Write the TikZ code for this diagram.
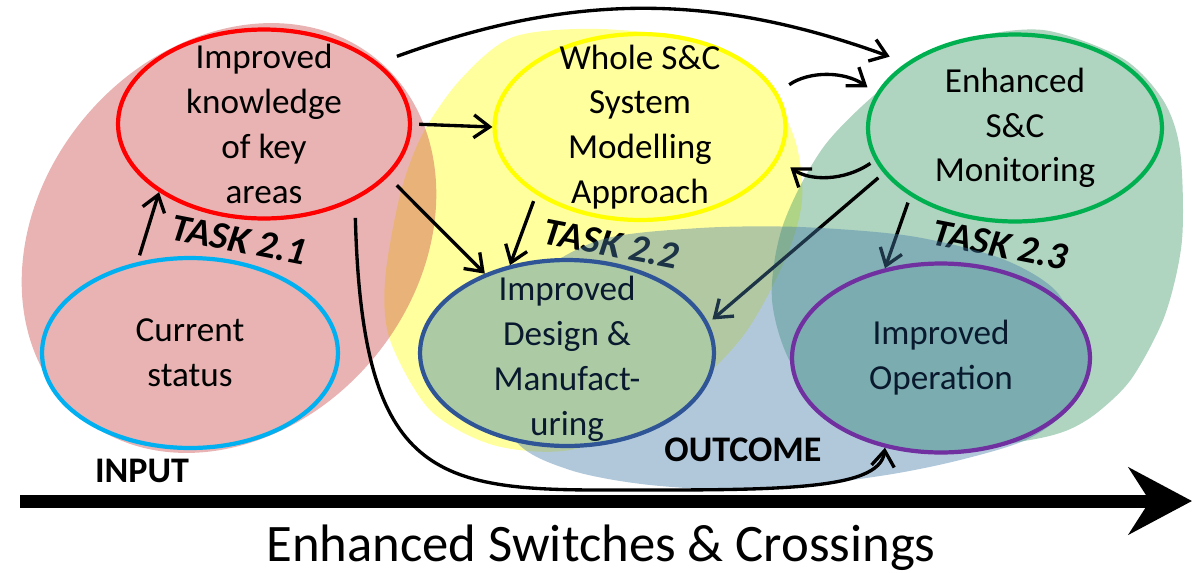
\documentclass[tikz,border=0pt]{standalone}
\usepackage{fontspec}
\setmainfont{Carlito}
\usetikzlibrary{shapes.geometric,arrows.meta,positioning}

% outline colours
\definecolor{knowred}{RGB}{255,0,0}
\definecolor{curcyan}{RGB}{0,176,240}
\definecolor{modyel}{RGB}{255,255,0}
\definecolor{mongreen}{RGB}{0,176,80}
\definecolor{desblue}{RGB}{47,85,151}
\definecolor{operpurple}{RGB}{112,48,160}
% fills
\definecolor{pinkfill}{RGB}{233,179,179}
\definecolor{yelfill}{RGB}{255,255,158}
\definecolor{greenfill}{RGB}{175,212,191}
\definecolor{desfill}{RGB}{172,203,165}
\definecolor{operfill}{RGB}{122,172,176}
\definecolor{navy}{RGB}{10,26,46}
% blob colours (used with opacity)
\definecolor{pinkbase}{RGB}{200,65,65}
\definecolor{yelbase}{RGB}{255,255,0}
\definecolor{greenbase}{RGB}{55,147,95}
\definecolor{bluebase}{RGB}{70,125,170}

\pgfdeclarelayer{back}
\pgfdeclarelayer{tint}
\pgfdeclarelayer{front}
\pgfsetlayers{back,main,tint,front}

\tikzset{
  stage/.style={ellipse, line width=2.4pt, inner sep=0pt,
    minimum width=5.86cm, minimum height=3.74cm},
  lbl/.style={align=center, inner sep=0pt, font=\fontsize{20}{25.5}\selectfont},
  tasklbl/.style={font=\bfseries\itshape\fontsize{22}{26}\selectfont,
    rotate=-11, inner sep=0pt},
  tag/.style={font=\bfseries\fontsize{20.5}{24}\selectfont, inner sep=0pt},
  arr/.style={-{Straight Barb[length=9pt,width=13pt]}, line width=1.9pt,
    shorten <=4pt}
}

\begin{document}
\begin{tikzpicture}[x=0.02cm, y=-0.02cm]
\useasboundingbox (0,0) rectangle (1197,572);

% Background blobs
\begin{pgfonlayer}{back}
  \fill[yelbase, fill opacity=.38] plot[smooth cycle] coordinates {
    (513,37) (600,29) (700,42) (765,85) (795,140) (802,200) (785,260)
    (740,340) (660,415) (570,450) (493,445) (430,410) (390,340)
    (385,280) (400,195) (422,135) (460,80)};
  \coordinate (pink-c) at (229,238);
  \fill[pinkbase, fill opacity=.4, rotate around={50:(pink-c)}]
    (pink-c) ellipse [x radius=232, y radius=188];
  \fill[greenbase, fill opacity=.4] plot[smooth cycle] coordinates {
    (1043,30) (1122,58) (1163,100) (1180,150) (1182,240) (1165,315)
    (1132,378) (1098,412) (1068,430) (1030,440) (950,450) (860,430)
    (795,370) (772,300) (783,225) (825,145) (895,78) (965,40)};
\end{pgfonlayer}

% Outcome blob
\begin{pgfonlayer}{tint}
  \fill[bluebase, fill opacity=.42] plot[smooth cycle] coordinates {
    (490,360) (530,282) (600,240) (700,228) (800,227) (910,236)
    (1000,258) (1055,290) (1080,340) (1075,400) (1030,438) (960,460)
    (880,476) (760,490) (650,485) (570,470) (515,440)};
\end{pgfonlayer}

% Stages
\node[stage, draw=knowred, fill=pinkfill, minimum width=5.84cm, minimum height=3.78cm] (know) at (264,124) {};
\node[lbl] (know-t) at (know) {Improved\\knowledge\\of key\\areas};

\node[stage, draw=curcyan, fill=pinkfill, minimum width=5.92cm, minimum height=3.8cm] (cur) at (190,353) {};
\node[lbl] (cur-t) at (cur) {Current\\status};

\node[stage, draw=modyel, fill=yelfill, minimum width=5.82cm, minimum height=3.72cm] (model) at (640,127) {};
\node[lbl] (model-t) at (model) {Whole S\&C\\System\\Modelling\\Approach};

\node[stage, draw=mongreen, fill=greenfill, minimum width=5.88cm] (mon) at (1015,128) {};
\node[lbl] (mon-t) at (mon) {Enhanced\\S\&C\\Monitoring};

\begin{pgfonlayer}{front}
  \node[stage, draw=desblue, fill=desfill, minimum width=5.88cm, minimum height=3.72cm] (des) at (567,353) {};
  \node[lbl, text=navy] (des-t) at ([yshift=-0.12cm]des.center) {Improved\\Design \&\\Manufact-\\uring};

  \node[stage, draw=operpurple, fill=operfill, minimum width=5.96cm, minimum height=3.78cm] (oper) at (941,358) {};
  \node[lbl, text=navy] (oper-t) at (oper) {Improved\\Operation};
\end{pgfonlayer}

% Links between stages
\draw[arr] (cur.120) -- (know.213);
\draw[arr] (know.east) -- (model.west);
\draw[arr, shorten <=7pt] (know.337) -- (des.136);
\draw[arr] (model.213) -- (des.123);
\draw[arr, shorten <=11pt, shorten >=10pt] (know.28) to[bend left=20] (mon.149);
\draw[arr, shorten <=8pt, shorten >=6pt] (model.14) to[bend left=35] (mon.166);
\draw[arr, shorten <=3pt, shorten >=8pt] (mon.193) to[bend left=35] (model.347);
\draw[arr, shorten >=3pt] (mon.199) -- (des.12);
\draw[arr] (mon.213) -- (oper.122);

% Task labels
\node[tasklbl] (task1) at (239,240) {TASK 2.1};
\node[tasklbl] (task2) at (611,244) {TASK 2.2};
\node[tasklbl] (task3) at (1000,245) {TASK 2.3};

\begin{pgfonlayer}{front}
  % long link round the bottom
  \coordinate (low) at (600,490);
  \draw[arr, shorten <=10pt] (know.320) .. controls (362,470) and (430,490) .. (low)
    .. controls (770,490) and (880,492) .. (oper.238);

  \node[tag] (input) at (142,471) {INPUT};
  \node[tag] (outcome) at (743,450) {OUTCOME};

  % time axis
  \coordinate (ax-l) at (20,501);
  \coordinate (ax-r) at (1192,501);
  \draw[line width=7.4pt, -{Stealth[length=36pt, width=38pt, inset=12pt]}] (ax-l) -- (ax-r);
  \node[anchor=base, inner sep=0pt, font=\fontsize{30}{36}\selectfont] (axis-t) at (601,561)
    {Enhanced Switches \& Crossings};
\end{pgfonlayer}
\end{tikzpicture}
\end{document}
